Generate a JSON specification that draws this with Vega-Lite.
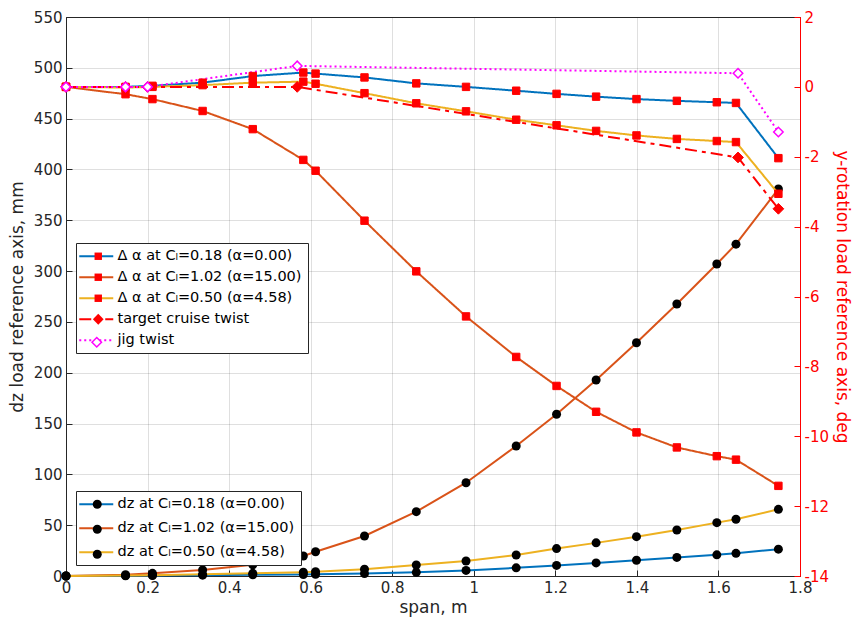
{
  "$schema": "https://vega.github.io/schema/vega-lite/v6.json",
  "width": 734,
  "height": 559,
  "autosize": {"type": "none"},
  "padding": {"left": 66, "top": 17, "right": 56, "bottom": 47},
  "background": "white",
  "config": {
    "font": "DejaVu Sans",
    "view": {"stroke": "#262626", "strokeWidth": 1},
    "axis": {
      "labelFont": "DejaVu Sans",
      "titleFont": "DejaVu Sans",
      "labelFontSize": 15,
      "titleFontSize": 17,
      "titleFontWeight": "normal",
      "tickSize": -6,
      "tickWidth": 1,
      "domainWidth": 1,
      "grid": true,
      "gridWidth": 1,
      "labelFlush": false,
      "labelOverlap": false
    },
    "legend": {
      "labelFont": "DejaVu Sans",
      "labelFontSize": 14.5,
      "labelColor": "#000000",
      "labelLimit": 400
    }
  },
  "datasets": {
    "dz": [
      {"span": 0, "dz": 0, "series": "dz at Cₗ=0.18 (α=0.00)"},
      {"span": 0.146, "dz": 0.3, "series": "dz at Cₗ=0.18 (α=0.00)"},
      {"span": 0.212, "dz": 0.5, "series": "dz at Cₗ=0.18 (α=0.00)"},
      {"span": 0.335, "dz": 0.8, "series": "dz at Cₗ=0.18 (α=0.00)"},
      {"span": 0.458, "dz": 1.2, "series": "dz at Cₗ=0.18 (α=0.00)"},
      {"span": 0.582, "dz": 1.5, "series": "dz at Cₗ=0.18 (α=0.00)"},
      {"span": 0.612, "dz": 1.7, "series": "dz at Cₗ=0.18 (α=0.00)"},
      {"span": 0.732, "dz": 2.4, "series": "dz at Cₗ=0.18 (α=0.00)"},
      {"span": 0.859, "dz": 3.6, "series": "dz at Cₗ=0.18 (α=0.00)"},
      {"span": 0.981, "dz": 5.5, "series": "dz at Cₗ=0.18 (α=0.00)"},
      {"span": 1.104, "dz": 8.0, "series": "dz at Cₗ=0.18 (α=0.00)"},
      {"span": 1.203, "dz": 10.4, "series": "dz at Cₗ=0.18 (α=0.00)"},
      {"span": 1.3, "dz": 12.9, "series": "dz at Cₗ=0.18 (α=0.00)"},
      {"span": 1.399, "dz": 15.5, "series": "dz at Cₗ=0.18 (α=0.00)"},
      {"span": 1.498, "dz": 18.3, "series": "dz at Cₗ=0.18 (α=0.00)"},
      {"span": 1.596, "dz": 20.8, "series": "dz at Cₗ=0.18 (α=0.00)"},
      {"span": 1.643, "dz": 22.3, "series": "dz at Cₗ=0.18 (α=0.00)"},
      {"span": 1.747, "dz": 26.4, "series": "dz at Cₗ=0.18 (α=0.00)"},

      {"span": 0, "dz": 0, "series": "dz at Cₗ=1.02 (α=15.00)"},
      {"span": 0.146, "dz": 1.3, "series": "dz at Cₗ=1.02 (α=15.00)"},
      {"span": 0.212, "dz": 2.6, "series": "dz at Cₗ=1.02 (α=15.00)"},
      {"span": 0.335, "dz": 6.0, "series": "dz at Cₗ=1.02 (α=15.00)"},
      {"span": 0.458, "dz": 11.0, "series": "dz at Cₗ=1.02 (α=15.00)"},
      {"span": 0.582, "dz": 19.7, "series": "dz at Cₗ=1.02 (α=15.00)"},
      {"span": 0.612, "dz": 23.9, "series": "dz at Cₗ=1.02 (α=15.00)"},
      {"span": 0.732, "dz": 39.4, "series": "dz at Cₗ=1.02 (α=15.00)"},
      {"span": 0.859, "dz": 63.3, "series": "dz at Cₗ=1.02 (α=15.00)"},
      {"span": 0.981, "dz": 91.8, "series": "dz at Cₗ=1.02 (α=15.00)"},
      {"span": 1.104, "dz": 127.9, "series": "dz at Cₗ=1.02 (α=15.00)"},
      {"span": 1.203, "dz": 159.1, "series": "dz at Cₗ=1.02 (α=15.00)"},
      {"span": 1.3, "dz": 192.8, "series": "dz at Cₗ=1.02 (α=15.00)"},
      {"span": 1.399, "dz": 229.5, "series": "dz at Cₗ=1.02 (α=15.00)"},
      {"span": 1.498, "dz": 267.6, "series": "dz at Cₗ=1.02 (α=15.00)"},
      {"span": 1.596, "dz": 307.0, "series": "dz at Cₗ=1.02 (α=15.00)"},
      {"span": 1.643, "dz": 326.5, "series": "dz at Cₗ=1.02 (α=15.00)"},
      {"span": 1.747, "dz": 380.8, "series": "dz at Cₗ=1.02 (α=15.00)"},

      {"span": 0, "dz": 0, "series": "dz at Cₗ=0.50 (α=4.58)"},
      {"span": 0.146, "dz": 0.4, "series": "dz at Cₗ=0.50 (α=4.58)"},
      {"span": 0.212, "dz": 0.8, "series": "dz at Cₗ=0.50 (α=4.58)"},
      {"span": 0.335, "dz": 1.6, "series": "dz at Cₗ=0.50 (α=4.58)"},
      {"span": 0.458, "dz": 2.6, "series": "dz at Cₗ=0.50 (α=4.58)"},
      {"span": 0.582, "dz": 3.8, "series": "dz at Cₗ=0.50 (α=4.58)"},
      {"span": 0.612, "dz": 4.3, "series": "dz at Cₗ=0.50 (α=4.58)"},
      {"span": 0.732, "dz": 6.6, "series": "dz at Cₗ=0.50 (α=4.58)"},
      {"span": 0.859, "dz": 10.8, "series": "dz at Cₗ=0.50 (α=4.58)"},
      {"span": 0.981, "dz": 14.8, "series": "dz at Cₗ=0.50 (α=4.58)"},
      {"span": 1.104, "dz": 20.7, "series": "dz at Cₗ=0.50 (α=4.58)"},
      {"span": 1.203, "dz": 27.0, "series": "dz at Cₗ=0.50 (α=4.58)"},
      {"span": 1.3, "dz": 32.6, "series": "dz at Cₗ=0.50 (α=4.58)"},
      {"span": 1.399, "dz": 38.7, "series": "dz at Cₗ=0.50 (α=4.58)"},
      {"span": 1.498, "dz": 45.3, "series": "dz at Cₗ=0.50 (α=4.58)"},
      {"span": 1.596, "dz": 52.5, "series": "dz at Cₗ=0.50 (α=4.58)"},
      {"span": 1.643, "dz": 55.8, "series": "dz at Cₗ=0.50 (α=4.58)"},
      {"span": 1.747, "dz": 65.6, "series": "dz at Cₗ=0.50 (α=4.58)"}
    ],
    "twist": [
      {"span": 0, "rot": 0, "series": "Δ α at Cₗ=0.18 (α=0.00)"},
      {"span": 0.146, "rot": 0.0, "series": "Δ α at Cₗ=0.18 (α=0.00)"},
      {"span": 0.212, "rot": 0.03, "series": "Δ α at Cₗ=0.18 (α=0.00)"},
      {"span": 0.335, "rot": 0.12, "series": "Δ α at Cₗ=0.18 (α=0.00)"},
      {"span": 0.458, "rot": 0.31, "series": "Δ α at Cₗ=0.18 (α=0.00)"},
      {"span": 0.582, "rot": 0.41, "series": "Δ α at Cₗ=0.18 (α=0.00)"},
      {"span": 0.612, "rot": 0.38, "series": "Δ α at Cₗ=0.18 (α=0.00)"},
      {"span": 0.732, "rot": 0.27, "series": "Δ α at Cₗ=0.18 (α=0.00)"},
      {"span": 0.859, "rot": 0.10, "series": "Δ α at Cₗ=0.18 (α=0.00)"},
      {"span": 0.981, "rot": 0.0, "series": "Δ α at Cₗ=0.18 (α=0.00)"},
      {"span": 1.104, "rot": -0.11, "series": "Δ α at Cₗ=0.18 (α=0.00)"},
      {"span": 1.203, "rot": -0.20, "series": "Δ α at Cₗ=0.18 (α=0.00)"},
      {"span": 1.3, "rot": -0.28, "series": "Δ α at Cₗ=0.18 (α=0.00)"},
      {"span": 1.399, "rot": -0.35, "series": "Δ α at Cₗ=0.18 (α=0.00)"},
      {"span": 1.498, "rot": -0.40, "series": "Δ α at Cₗ=0.18 (α=0.00)"},
      {"span": 1.596, "rot": -0.44, "series": "Δ α at Cₗ=0.18 (α=0.00)"},
      {"span": 1.643, "rot": -0.46, "series": "Δ α at Cₗ=0.18 (α=0.00)"},
      {"span": 1.747, "rot": -2.04, "series": "Δ α at Cₗ=0.18 (α=0.00)"},

      {"span": 0, "rot": 0, "series": "Δ α at Cₗ=1.02 (α=15.00)"},
      {"span": 0.146, "rot": -0.21, "series": "Δ α at Cₗ=1.02 (α=15.00)"},
      {"span": 0.212, "rot": -0.35, "series": "Δ α at Cₗ=1.02 (α=15.00)"},
      {"span": 0.335, "rot": -0.69, "series": "Δ α at Cₗ=1.02 (α=15.00)"},
      {"span": 0.458, "rot": -1.21, "series": "Δ α at Cₗ=1.02 (α=15.00)"},
      {"span": 0.582, "rot": -2.09, "series": "Δ α at Cₗ=1.02 (α=15.00)"},
      {"span": 0.612, "rot": -2.40, "series": "Δ α at Cₗ=1.02 (α=15.00)"},
      {"span": 0.732, "rot": -3.83, "series": "Δ α at Cₗ=1.02 (α=15.00)"},
      {"span": 0.859, "rot": -5.28, "series": "Δ α at Cₗ=1.02 (α=15.00)"},
      {"span": 0.981, "rot": -6.57, "series": "Δ α at Cₗ=1.02 (α=15.00)"},
      {"span": 1.104, "rot": -7.73, "series": "Δ α at Cₗ=1.02 (α=15.00)"},
      {"span": 1.203, "rot": -8.56, "series": "Δ α at Cₗ=1.02 (α=15.00)"},
      {"span": 1.3, "rot": -9.30, "series": "Δ α at Cₗ=1.02 (α=15.00)"},
      {"span": 1.399, "rot": -9.89, "series": "Δ α at Cₗ=1.02 (α=15.00)"},
      {"span": 1.498, "rot": -10.32, "series": "Δ α at Cₗ=1.02 (α=15.00)"},
      {"span": 1.596, "rot": -10.57, "series": "Δ α at Cₗ=1.02 (α=15.00)"},
      {"span": 1.643, "rot": -10.67, "series": "Δ α at Cₗ=1.02 (α=15.00)"},
      {"span": 1.747, "rot": -11.42, "series": "Δ α at Cₗ=1.02 (α=15.00)"},

      {"span": 0, "rot": 0, "series": "Δ α at Cₗ=0.50 (α=4.58)"},
      {"span": 0.146, "rot": -0.02, "series": "Δ α at Cₗ=0.50 (α=4.58)"},
      {"span": 0.212, "rot": 0.0, "series": "Δ α at Cₗ=0.50 (α=4.58)"},
      {"span": 0.335, "rot": 0.05, "series": "Δ α at Cₗ=0.50 (α=4.58)"},
      {"span": 0.458, "rot": 0.12, "series": "Δ α at Cₗ=0.50 (α=4.58)"},
      {"span": 0.582, "rot": 0.15, "series": "Δ α at Cₗ=0.50 (α=4.58)"},
      {"span": 0.612, "rot": 0.09, "series": "Δ α at Cₗ=0.50 (α=4.58)"},
      {"span": 0.732, "rot": -0.18, "series": "Δ α at Cₗ=0.50 (α=4.58)"},
      {"span": 0.859, "rot": -0.47, "series": "Δ α at Cₗ=0.50 (α=4.58)"},
      {"span": 0.981, "rot": -0.70, "series": "Δ α at Cₗ=0.50 (α=4.58)"},
      {"span": 1.104, "rot": -0.94, "series": "Δ α at Cₗ=0.50 (α=4.58)"},
      {"span": 1.203, "rot": -1.10, "series": "Δ α at Cₗ=0.50 (α=4.58)"},
      {"span": 1.3, "rot": -1.26, "series": "Δ α at Cₗ=0.50 (α=4.58)"},
      {"span": 1.399, "rot": -1.39, "series": "Δ α at Cₗ=0.50 (α=4.58)"},
      {"span": 1.498, "rot": -1.49, "series": "Δ α at Cₗ=0.50 (α=4.58)"},
      {"span": 1.596, "rot": -1.55, "series": "Δ α at Cₗ=0.50 (α=4.58)"},
      {"span": 1.643, "rot": -1.58, "series": "Δ α at Cₗ=0.50 (α=4.58)"},
      {"span": 1.747, "rot": -3.06, "series": "Δ α at Cₗ=0.50 (α=4.58)"},

      {"span": 0, "rot": 0, "series": "target cruise twist"},
      {"span": 0.146, "rot": 0, "series": "target cruise twist"},
      {"span": 0.2, "rot": 0, "series": "target cruise twist"},
      {"span": 0.567, "rot": 0, "series": "target cruise twist"},
      {"span": 1.648, "rot": -2.02, "series": "target cruise twist"},
      {"span": 1.747, "rot": -3.49, "series": "target cruise twist"},

      {"span": 0, "rot": 0, "series": "jig twist"},
      {"span": 0.146, "rot": 0, "series": "jig twist"},
      {"span": 0.2, "rot": 0, "series": "jig twist"},
      {"span": 0.567, "rot": 0.6, "series": "jig twist"},
      {"span": 1.648, "rot": 0.39, "series": "jig twist"},
      {"span": 1.747, "rot": -1.29, "series": "jig twist"}
    ]
  },
  "layer": [
    {
      "data": {"name": "dz"},
      "encoding": {
        "x": {
          "field": "span", "type": "quantitative",
          "scale": {"domain": [0, 1.8], "nice": false, "zero": false},
          "axis": {
            "title": "span, m", "values": [0, 0.2, 0.4, 0.6, 0.8, 1, 1.2, 1.4, 1.6, 1.8], "format": "~g",
            "gridColor": "#262626", "gridOpacity": 0.15,
            "domainColor": "#262626", "tickColor": "#262626", "labelColor": "#262626", "titleColor": "#262626",
            "labelPadding": 10, "titlePadding": 4
          }
        },
        "y": {
          "field": "dz", "type": "quantitative",
          "scale": {"domain": [0, 550], "nice": false, "zero": false},
          "axis": {
            "orient": "left", "title": "dz load reference axis, mm",
            "values": [0, 50, 100, 150, 200, 250, 300, 350, 400, 450, 500, 550],
            "gridColor": "#262626", "gridOpacity": 0.15,
            "domainColor": "#262626", "tickColor": "#262626", "labelColor": "#262626", "titleColor": "#262626",
            "labelPadding": 10, "titlePadding": 7
          }
        }
      },
      "layer": [
        {
          "mark": {"type": "line", "strokeWidth": 2},
          "encoding": {
            "color": {
              "field": "series", "type": "nominal",
              "scale": {
                "domain": ["dz at Cₗ=0.18 (α=0.00)", "dz at Cₗ=1.02 (α=15.00)", "dz at Cₗ=0.50 (α=4.58)"],
                "range": ["#0072BD", "#D95319", "#EDB120"]
              },
              "legend": {
                "title": null, "orient": "none", "legendX": 10, "legendY": 474, "zindex": 1,
                "symbolType": "M-3.4,0H3.4", "symbolSize": 100, "symbolStrokeWidth": 2,
                "symbolOffset": 7, "labelOffset": 14, "padding": 6, "rowPadding": 9,
                "fillColor": "white", "strokeColor": "#262626"
              }
            }
          }
        },
        {
          "mark": {"type": "point", "filled": true, "color": "#000000", "size": 81, "opacity": 1},
          "encoding": {
            "shape": {
              "field": "series", "type": "nominal",
              "sort": ["dz at Cₗ=0.18 (α=0.00)", "dz at Cₗ=1.02 (α=15.00)", "dz at Cₗ=0.50 (α=4.58)"],
              "scale": {"range": ["circle", "circle", "circle"]},
              "legend": {
                "title": null, "orient": "none", "legendX": 10, "legendY": 474, "zindex": 2,
                "symbolSize": 81, "symbolFillColor": "#000000", "symbolStrokeColor": "#000000",
                "symbolOffset": 8, "labelOffset": 14, "padding": 6, "rowPadding": 9,
                "labelOpacity": 0
              }
            }
          }
        }
      ]
    },
    {
      "data": {"name": "twist"},
      "encoding": {
        "x": {
          "field": "span", "type": "quantitative",
          "scale": {"domain": [0, 1.8], "nice": false, "zero": false},
          "axis": {
            "title": "span, m", "values": [0, 0.2, 0.4, 0.6, 0.8, 1, 1.2, 1.4, 1.6, 1.8], "format": "~g",
            "gridColor": "#262626", "gridOpacity": 0.15,
            "domainColor": "#262626", "tickColor": "#262626", "labelColor": "#262626", "titleColor": "#262626",
            "labelPadding": 10, "titlePadding": 4
          }
        },
        "y": {
          "field": "rot", "type": "quantitative",
          "scale": {"domain": [-14, 2], "nice": false, "zero": false},
          "axis": {
            "orient": "right", "title": "y-rotation load reference axis, deg",
            "values": [-14, -12, -10, -8, -6, -4, -2, 0, 2],
            "labelExpr": "replace(datum.label, '−', '-')",
            "gridColor": "#FF0000", "gridOpacity": 0.12,
            "domainColor": "#FF0000", "tickColor": "#FF0000", "labelColor": "#FF0000", "titleColor": "#FF0000",
            "labelPadding": 10, "titlePadding": 4
          }
        }
      },
      "layer": [
        {
          "mark": {"type": "line"},
          "encoding": {
            "color": {
              "field": "series", "type": "nominal",
              "scale": {
                "domain": ["Δ α at Cₗ=0.18 (α=0.00)", "Δ α at Cₗ=1.02 (α=15.00)", "Δ α at Cₗ=0.50 (α=4.58)", "target cruise twist", "jig twist"],
                "range": ["#0072BD", "#D95319", "#EDB120", "#FF0000", "#FF00FF"]
              },
              "legend": {
                "title": null, "orient": "none", "legendX": 10, "legendY": 226, "zindex": 1,
                "symbolType": "M-3.4,0H3.4", "symbolSize": 100,
                "symbolOffset": 7, "labelOffset": 14, "padding": 6, "rowPadding": 6,
                "fillColor": "white", "strokeColor": "#262626"
              }
            },
            "strokeDash": {
              "field": "series", "type": "nominal",
              "scale": {
                "domain": ["Δ α at Cₗ=0.18 (α=0.00)", "Δ α at Cₗ=1.02 (α=15.00)", "Δ α at Cₗ=0.50 (α=4.58)", "target cruise twist", "jig twist"],
                "range": [[1, 0], [1, 0], [1, 0], [12, 5, 4, 5], [2, 3]]
              },
              "legend": {
                "title": null, "orient": "none", "legendX": 10, "legendY": 226, "zindex": 1,
                "symbolType": "M-3.4,0H3.4", "symbolSize": 100,
                "symbolOffset": 7, "labelOffset": 14, "padding": 6, "rowPadding": 6,
                "fillColor": "white", "strokeColor": "#262626"
              }
            },
            "strokeWidth": {
              "field": "series", "type": "nominal",
              "scale": {
                "domain": ["Δ α at Cₗ=0.18 (α=0.00)", "Δ α at Cₗ=1.02 (α=15.00)", "Δ α at Cₗ=0.50 (α=4.58)", "target cruise twist", "jig twist"],
                "range": [2, 2, 2, 3.5, 2]
              },
              "legend": {
                "title": null, "orient": "none", "legendX": 10, "legendY": 226, "zindex": 1,
                "symbolType": "M-3.4,0H3.4", "symbolSize": 100,
                "symbolOffset": 7, "labelOffset": 14, "padding": 6, "rowPadding": 6,
                "fillColor": "white", "strokeColor": "#262626"
              }
            }
          }
        },
        {
          "transform": [{"filter": "datum.series !== 'jig twist'"}],
          "mark": {"type": "point", "filled": true, "opacity": 1, "size": 55, "color": "#FF0000", "stroke": "#FF0000", "strokeWidth": 1},
          "encoding": {
            "shape": {
              "field": "series", "type": "nominal",
              "sort": ["Δ α at Cₗ=0.18 (α=0.00)", "Δ α at Cₗ=1.02 (α=15.00)", "Δ α at Cₗ=0.50 (α=4.58)", "target cruise twist"],
              "scale": {"range": ["square", "square", "square", "M-1.45,0L0,-1.45L1.45,0L0,1.45Z"]},
              "legend": {
                "title": null, "orient": "none", "legendX": 10, "legendY": 226, "zindex": 2,
                "symbolSize": 55, "symbolFillColor": "#FF0000", "symbolStrokeColor": "#FF0000", "symbolStrokeWidth": 1,
                "symbolOffset": 9, "labelOffset": 14, "padding": 6, "rowPadding": 6,
                "labelOpacity": 0
              }
            }
          }
        },
        {
          "transform": [{"filter": "datum.series === 'jig twist'"}],
          "mark": {"type": "point", "shape": "diamond", "filled": true, "opacity": 1, "size": 90, "stroke": "#FF00FF", "strokeWidth": 1.5},
          "encoding": {
            "fill": {
              "field": "series", "type": "nominal",
              "scale": {"domain": ["jig twist"], "range": ["#FFFFFF"]},
              "legend": {
                "title": null, "orient": "none", "legendX": 10, "legendY": 312, "zindex": 3,
                "symbolType": "diamond", "symbolSize": 90, "symbolStrokeColor": "#FF00FF", "symbolStrokeWidth": 1.5,
                "symbolOffset": 7.5, "labelOffset": 14, "padding": 6, "rowPadding": 6,
                "labelOpacity": 0
              }
            }
          }
        }
      ]
    }
  ],
  "resolve": {
    "scale": {
      "y": "independent",
      "color": "independent",
      "shape": "independent",
      "strokeDash": "independent",
      "strokeWidth": "independent"
    }
  }
}
